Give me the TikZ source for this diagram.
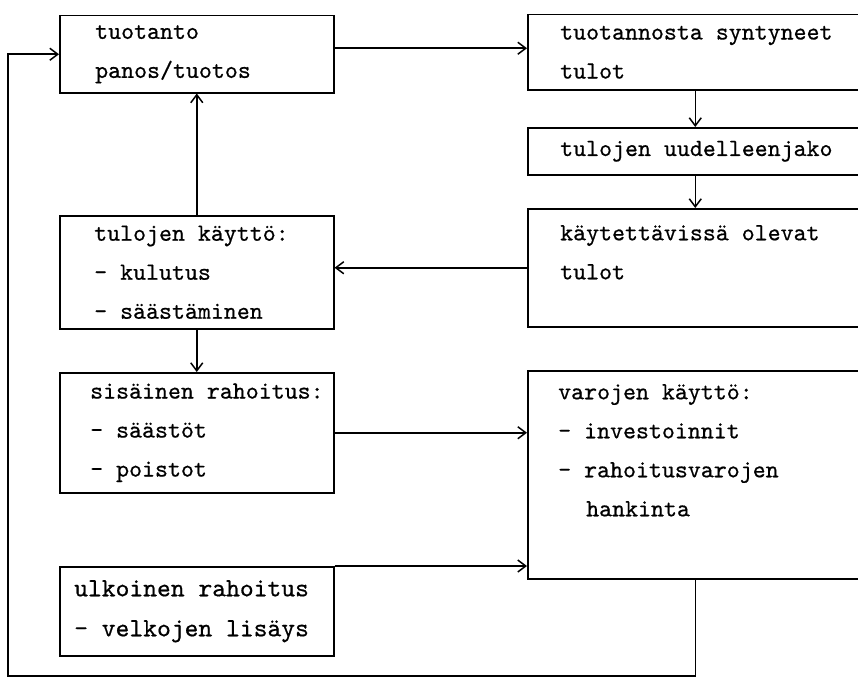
\documentclass[tikz,border=0pt]{standalone}
\usepackage{fontspec}
\setmainfont{lmmono10-regular.otf}[FakeBold=0.6]
\usetikzlibrary{arrows.meta}

\begin{document}
\begin{tikzpicture}[x=1pt, y=-1pt,
   every node/.style={font=\fontsize{24.7}{39}\selectfont},
   lbox/.style={draw, line width=1.5pt, anchor=north west, minimum width=274pt, inner sep=0pt},
   rbox/.style={draw, line width=1.5pt, anchor=north west, minimum width=335pt, inner sep=0pt},
   txt/.style={anchor=west, align=left, inner sep=0pt},
   toptxt/.style={anchor=north west, align=left, inner sep=0pt},
   flow/.style={line width=1.5pt, -{Straight Barb[length=8pt,width=12pt]}}]

\useasboundingbox (0,0) rectangle (858,685);
\clip (0,0) rectangle (858,685);

% left column
\node[lbox, minimum height=77pt,
      label={[txt, xshift=36pt]west:{tuotanto\\panos/tuotos}}] (tuotanto) at (59,15) {};
\node[lbox, minimum height=113pt,
      label={[txt, xshift=35pt]west:{tulojen käyttö:\\- kulutus\\- säästäminen}}] (kaytto) at (59,215) {};
\node[lbox, minimum height=120pt,
      label={[txt, xshift=31pt]west:{sisäinen rahoitus:\\- säästöt\\- poistot}}] (sisainen) at (59,372) {};
\node[lbox, minimum height=89pt,
      label={[txt, xshift=15pt, font=\fontsize{26.3}{40}\selectfont]west:{ulkoinen rahoitus\\- velkojen lisäys}}] (ulkoinen) at (59,566) {};

% right column
\node[rbox, minimum height=75pt,
      label={[txt, xshift=33pt]west:{tuotannosta syntyneet\\tulot}}] (tulot) at (527,14) {};
\node[rbox, minimum height=47pt,
      label={[txt, xshift=33pt]west:tulojen uudelleenjako}] (jako) at (527,127) {};
\node[rbox, minimum height=118pt,
      label={[toptxt, xshift=33pt, yshift=-17pt]north west:{käytettävissä olevat\\tulot}}] (kaytettavissa) at (527,208) {};
\node[rbox, minimum height=208pt,
      label={[toptxt, xshift=31pt, yshift=-14pt]north west:{varojen käyttö:\\- investoinnit\\- rahoitusvarojen\\\hspace*{28pt}hankinta}}] (varat) at (527,370) {};

% flows
\draw[flow] ([yshift=6pt]tuotanto.east) -- ([yshift=6pt]tuotanto.east -| tulot.west);
\draw[flow] (tulot.south) -- (jako.north);
\draw[flow] (jako.south) -- (kaytettavissa.north);
\draw[flow] (kaytettavissa.west) -- (kaytettavissa.west -| kaytto.east);
\draw[flow] (kaytto.north) -- (tuotanto.south);
\draw[flow] (kaytto.south) -- (sisainen.north);
\draw[flow] (sisainen.east) -- (sisainen.east -| varat.west);
\draw[flow] (ulkoinen.north east) -- (ulkoinen.north east -| varat.west);

% feedback loop
\coordinate (kulma) at (8,676);
\draw[flow] (varat.south) |- (kulma) |- (tuotanto.west);

\end{tikzpicture}
\end{document}
